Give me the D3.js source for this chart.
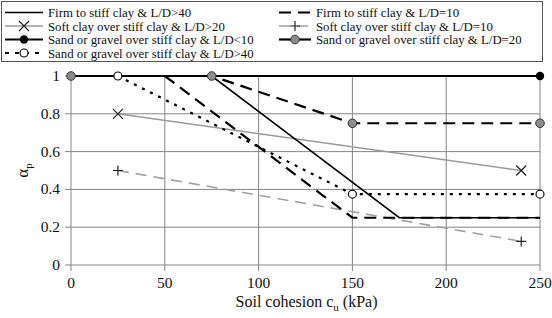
<!DOCTYPE html>
<html><head><meta charset="utf-8">
<script src="https://cdn.jsdelivr.net/npm/d3@7"></script>
<style>body{margin:0;background:#fff}svg{display:block}
svg text{font-family:"Liberation Serif",Tinos,"Times New Roman",Times,"DejaVu Serif","Noto Serif",serif !important}</style>
</head><body><svg id="c" width="552" height="318"></svg>
<script>
// Data
const seriesNames = [
  "Firm to stiff clay & L/D>40",
  "Soft clay over stiff clay & L/D>20",
  "Sand or gravel over stiff clay & L/D<10",
  "Sand or gravel over stiff clay & L/D>40",
  "Firm to stiff clay & L/D=10",
  "Soft clay over stiff clay & L/D=10",
  "Sand or gravel over stiff clay & L/D=20"
];
const firmLD40_x = [75, 175, 250];
const firmLD40_y = [1, 0.25, 0.25];
const softLD20_x = [25, 240];
const softLD20_y = [0.8, 0.5];
const sandLD10_x = [0, 250];
const sandLD10_y = [1, 1];
const sandLD40_x = [25, 150, 250];
const sandLD40_y = [1, 0.375, 0.375];
const firmLD10_x = [50, 150, 250];
const firmLD10_y = [1, 0.25, 0.25];
const softLD10_x = [25, 240];
const softLD10_y = [0.5, 0.125];
const sandLD20_x = [0, 75, 150, 250];
const sandLD20_y = [1, 1, 0.75, 0.75];
const xTicks = [0, 50, 100, 150, 200, 250];
const yTicks = [0, 0.2, 0.4, 0.6, 0.8, 1];
const xTitle = "Soil cohesion c";
const yTitle = "α";

const svg = d3.select("#c");
const x = d3.scaleLinear().domain([0, 250]).range([71, 540]);
const y = d3.scaleLinear().domain([0, 1]).range([265, 76]);
const grid = "#858585";
const tc = "#111";

// grid
svg.append("g").selectAll("line").data(yTicks).join("line")
  .attr("x1", x(0) - 6).attr("x2", x(250)).attr("y1", d => y(d)).attr("y2", d => y(d))
  .attr("stroke", grid).attr("stroke-width", 1);
svg.append("g").selectAll("line").data(xTicks).join("line")
  .attr("x1", d => x(d)).attr("x2", d => x(d)).attr("y1", y(1)).attr("y2", y(0) + 6)
  .attr("stroke", grid).attr("stroke-width", 1);

// tick labels
svg.append("g").selectAll("text").data(yTicks).join("text")
  .attr("x", 60).attr("y", d => y(d) + 5).attr("text-anchor", "end").attr("fill", tc)
  .attr("font-size", 15.5).text(d => d3.format("")(d));
svg.append("g").selectAll("text").data(xTicks).join("text")
  .attr("x", d => x(d)).attr("y", 288).attr("text-anchor", "middle").attr("fill", tc)
  .attr("font-size", 15.5).text(d => d);

// axis titles
const xt = svg.append("text").attr("x", (x(0) + x(250)) / 2 + 1).attr("y", 307).attr("fill", tc)
  .attr("text-anchor", "middle").attr("font-size", 16);
xt.append("tspan").text(xTitle);
xt.append("tspan").attr("font-size", 11).attr("dy", 3.5).text("u");
xt.append("tspan").attr("dy", -3.5).text(" (kPa)");
const yt = svg.append("text").attr("transform", `translate(28,${(y(0) + y(1)) / 2}) rotate(-90)`)
  .attr("text-anchor", "middle").attr("font-size", 17).attr("fill", tc);
yt.append("tspan").text(yTitle);
yt.append("tspan").attr("font-size", 11).attr("dy", 4).text("p");

const styles = [
  {x: firmLD40_x, y: firmLD40_y, stroke: "#000", w: 1.6, dash: null, marker: null},
  {x: softLD20_x, y: softLD20_y, stroke: "#9a9a9a", w: 1.5, dash: null, marker: "x"},
  {x: sandLD10_x, y: sandLD10_y, stroke: "#000", w: 2.2, dash: null, marker: "dot"},
  {x: sandLD40_x, y: sandLD40_y, stroke: "#000", w: 2.2, dash: "3,6", marker: "open"},
  {x: firmLD10_x, y: firmLD10_y, stroke: "#000", w: 2.2, dash: "12,7", marker: null},
  {x: softLD10_x, y: softLD10_y, stroke: "#a0a0a0", w: 1.6, dash: "11,7", marker: "plus"},
  {x: sandLD20_x, y: sandLD20_y, stroke: "#000", w: 2.2, dash: "12,7", marker: "gray"}
];
const line = d3.line();

function drawMarker(g, type, px, py) {
  if (type === "x") {
    g.append("path").attr("d", `M${px-5},${py-5}L${px+5},${py+5}M${px-5},${py+5}L${px+5},${py-5}`)
      .attr("stroke", "#222").attr("stroke-width", 1.2);
  } else if (type === "plus") {
    g.append("path").attr("d", `M${px-5},${py}L${px+5},${py}M${px},${py-5}L${px},${py+5}`)
      .attr("stroke", "#222").attr("stroke-width", 1.2);
  } else if (type === "dot") {
    g.append("circle").attr("cx", px).attr("cy", py).attr("r", 4.2).attr("fill", "#000");
  } else if (type === "open") {
    g.append("circle").attr("cx", px).attr("cy", py).attr("r", 4).attr("fill", "#fff")
      .attr("stroke", "#000").attr("stroke-width", 1.1);
  } else if (type === "gray") {
    g.append("circle").attr("cx", px).attr("cy", py).attr("r", 4.3).attr("fill", "#8c8c8c")
      .attr("stroke", "#333").attr("stroke-width", 1);
  }
}

const order = [5, 1, 3, 4, 6, 0, 2];
order.forEach(i => {
  const s = styles[i];
  const pts = s.x.map((d, j) => [x(d), y(s.y[j])]);
  svg.append("path").attr("d", line(pts)).attr("fill", "none").attr("stroke", s.stroke)
    .attr("stroke-width", s.w).attr("stroke-dasharray", s.dash);
});
const mOrder = [5, 1, 3, 2, 6];
mOrder.forEach(i => {
  const s = styles[i];
  const g = svg.append("g");
  s.x.forEach((d, j) => {
    if (i === 2 && d === 0) return;
    drawMarker(g, s.marker, x(d), y(s.y[j]));
  });
});

// legend
svg.append("rect").attr("x", 1.5).attr("y", 1.5).attr("width", 541).attr("height", 60)
  .attr("fill", "#fff").attr("stroke", "#555").attr("stroke-width", 1);
const legPos = [
  [5, 43, 48, 12.5], [5, 43, 48, 26], [5, 43, 48, 39.5], [5, 43, 48, 53],
  [279, 311, 316, 12.5], [279, 311, 316, 26], [279, 311, 316, 39.5]
];
const legOrder = [0, 1, 2, 3, 4, 5, 6];
legOrder.forEach((i, k) => {
  const s = styles[i];
  const [x1, x2, tx, ly] = legPos[k];
  const g = svg.append("g");
  let dash = s.dash;
  if (i === 3) dash = "4,6";
  if (i === 6) dash = null;
  g.append("line").attr("x1", x1).attr("x2", x2).attr("y1", ly).attr("y2", ly)
    .attr("stroke", s.stroke).attr("stroke-width", s.w).attr("stroke-dasharray", dash);
  if (s.marker) drawMarker(g, s.marker, (x1 + x2) / 2, ly);
  g.append("text").attr("x", tx).attr("y", ly + 4.5).attr("font-size", 12.8).attr("fill", tc)
    .text(seriesNames[i]);
});
</script></body></html>
